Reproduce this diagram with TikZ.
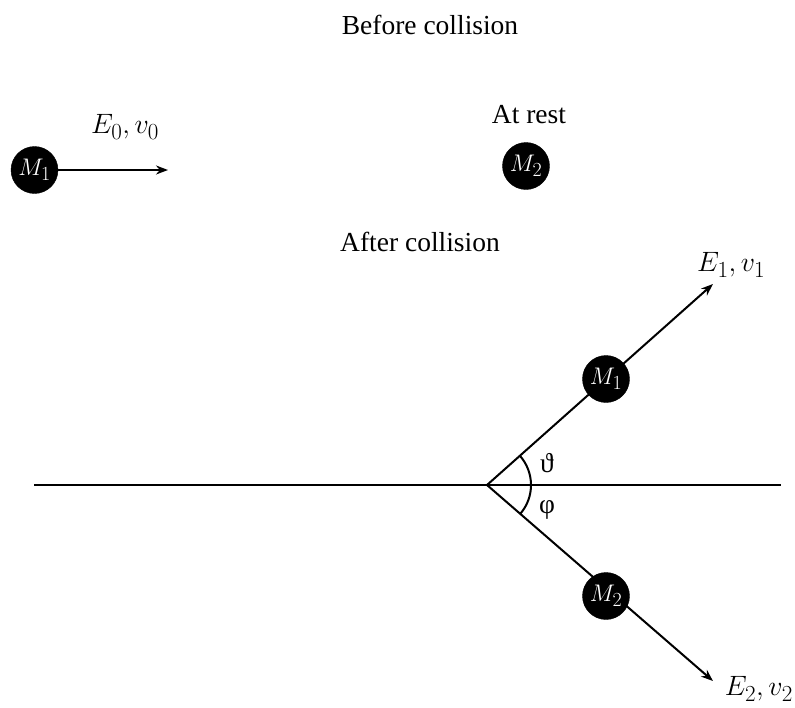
\RequirePackage{fix-cm}
\documentclass[tikz,border=0pt]{standalone}
\usepackage{fontspec}
\setmainfont{Liberation Serif}
\DeclareMathSizes{24}{24}{20}{16}
\DeclareMathSizes{28}{28}{23}{18}
\usetikzlibrary{arrows.meta}
\begin{document}
\begin{tikzpicture}[x=1pt,y=-1pt,
  ball/.style={circle,fill=black,draw=black,minimum size=47pt,inner sep=0pt,text=white,font=\fontsize{24}{28}\selectfont},
  lbl/.style={font=\fontsize{27.5}{33}\selectfont,inner sep=0pt},
  mlbl/.style={font=\fontsize{28}{33}\selectfont,inner sep=0pt},
  ln/.style={line width=2pt},
  arr/.style={line width=2pt,-{Stealth[length=12pt,width=9pt]}}]
\useasboundingbox (0,0) rectangle (795,707);
% titles
\node[lbl] (before) at (430,25) {Before collision};
\node[lbl] (rest) at (529,115) {At rest};
\node[lbl] (after) at (420,242) {After collision};
% before collision
\node[ball] (m1a) at (34.5,170) {$M_1$};
\node[ball] (m2a) at (526,166) {$M_2$};
\coordinate (t0) at (168,170);
\draw[arr] (m1a) -- (t0);
\node[mlbl] (e0) at (125,127) {$E_0, v_0$};
% after collision
\coordinate (L) at (34,485);
\coordinate (R) at (781,485);
\coordinate (O) at (487,485);
\coordinate (t1) at (713,284);
\coordinate (t2) at (713,681);
\draw[ln] (L) -- (R);
\draw[arr] (O) -- (t1);
\draw[arr] (O) -- (t2);
\draw[ln] (O) ++(-41.6:44) arc[start angle=-41.6,end angle=40.8,radius=44];
\node[ball] (m1b) at (606,379) {$M_1$};
\node[ball] (m2b) at (606,596) {$M_2$};
\node[mlbl,anchor=west] (e1) at (697,265) {$E_1, v_1$};
\node[mlbl,anchor=east] (e2) at (793,689) {$E_2, v_2$};
\node[lbl] (th) at (547,463) {ϑ};
\node[lbl] (ph) at (547,510) {φ};
\end{tikzpicture}
\end{document}
